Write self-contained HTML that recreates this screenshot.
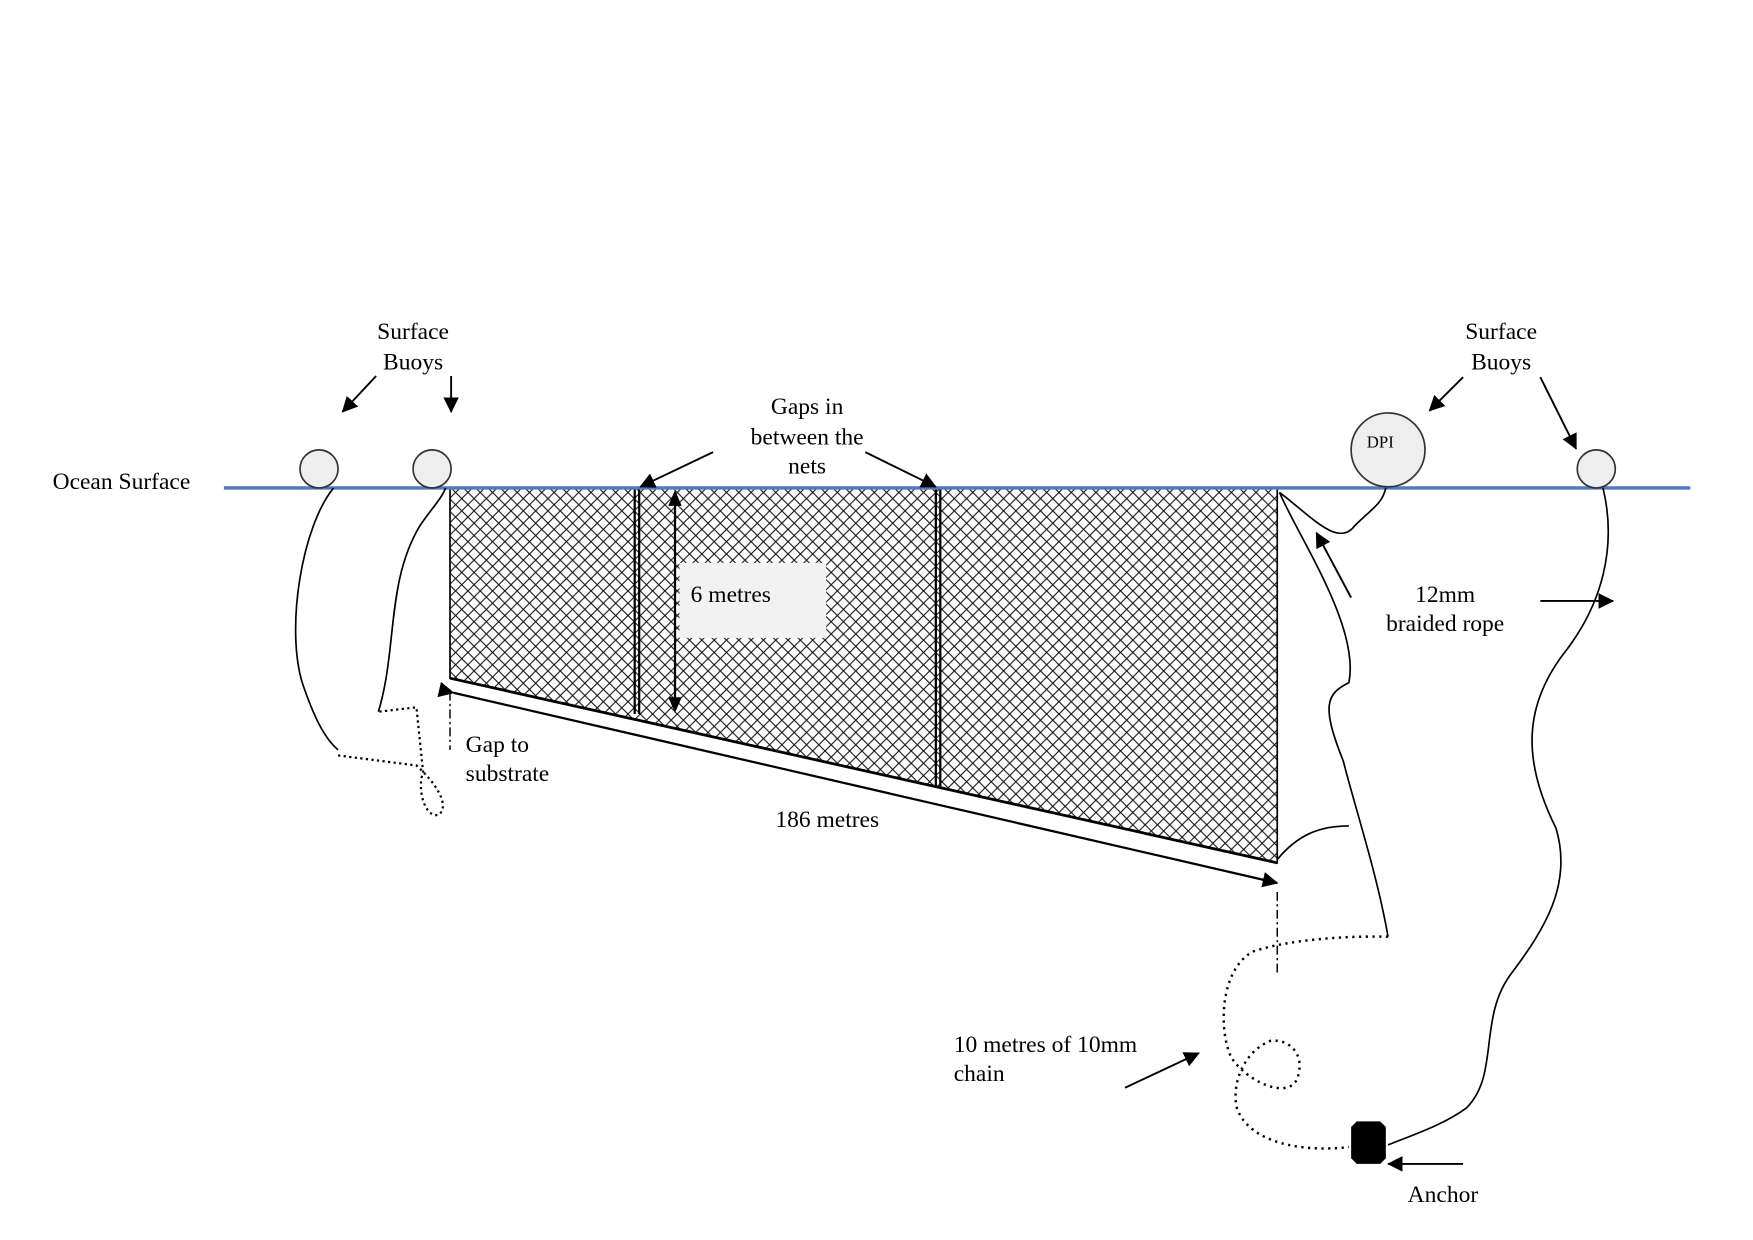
<!DOCTYPE html>
<html><head><meta charset="utf-8"><style>
html,body{margin:0;padding:0;background:#fff;}
svg{display:block;}
text{font-family:"Liberation Serif",serif;font-size:21px;fill:#000;}
</style></head><body>
<svg width="1753" height="1240" viewBox="0 0 1566 1108" preserveAspectRatio="none" xmlns="http://www.w3.org/2000/svg">
<defs>
<pattern id="net" width="11" height="11" patternUnits="userSpaceOnUse">
<path d="M0,0 L11,11 M11,0 L0,11" stroke="#111" stroke-width="1" fill="none"/>
</pattern>
<marker id="ah2" markerWidth="14" markerHeight="14" refX="13" refY="7" orient="auto" markerUnits="userSpaceOnUse">
<path d="M0,0 L14,7 L0,14 z" fill="#000"/>
</marker>
</defs>

<polygon points="402,436 1141,436 1141,771 402,606" fill="url(#net)" stroke="#000" stroke-width="1.5"/>
<line x1="567" y1="436" x2="567" y2="638" stroke="#000" stroke-width="2"/>
<line x1="571" y1="436" x2="571" y2="638" stroke="#000" stroke-width="2"/>
<line x1="836" y1="436" x2="836" y2="703" stroke="#000" stroke-width="2"/>
<line x1="840" y1="436" x2="840" y2="703" stroke="#000" stroke-width="2"/>
<line x1="402" y1="606" x2="1141" y2="771" stroke="#000" stroke-width="2.5"/>
<rect x="607" y="503" width="131" height="67" fill="#f2f2f2"/>
<text x="617" y="538">6 metres</text>
<line x1="603" y1="450" x2="603" y2="625" stroke="#000" stroke-width="2"/>
<path d="M597,452 L603,438 L609,452 z M597,623 L603,637 L609,623 z" fill="#000"/>

<line x1="200" y1="436" x2="1510" y2="436" stroke="#4f79bf" stroke-width="3"/>

<circle cx="285" cy="419" r="17" fill="#eee" stroke="#333" stroke-width="1.5"/>
<circle cx="386" cy="419" r="17" fill="#eee" stroke="#333" stroke-width="1.5"/>
<circle cx="1240" cy="402" r="33" fill="#eee" stroke="#333" stroke-width="1.5"/>
<text x="1221" y="400" style="font-size:15px">DPI</text>
<circle cx="1426" cy="419" r="17" fill="#eee" stroke="#333" stroke-width="1.5"/>

<path d="M298,436 C270,470 255,560 270,610 C280,640 290,660 302,670" fill="none" stroke="#000" stroke-width="1.5"/>
<path d="M302,675 L372,684 C390,700 402,720 392,728 C380,732 372,705 378,690 L372,632 L338,636" fill="none" stroke="#000" stroke-width="2" stroke-dasharray="2,3"/>
<path d="M338,636 C355,580 345,520 375,470 C385,455 395,445 398,436" fill="none" stroke="#000" stroke-width="1.5"/>

<path d="M1143,440 C1170,460 1195,490 1210,470 C1225,455 1235,450 1238,436" fill="none" stroke="#000" stroke-width="1.5"/>
<path d="M1143,440 C1160,480 1215,560 1205,610 C1185,620 1180,630 1200,680 C1210,720 1230,780 1240,837" fill="none" stroke="#000" stroke-width="1.5"/>
<path d="M1141,768 C1160,745 1180,738 1205,738" fill="none" stroke="#000" stroke-width="1.5"/>
<path d="M1240,837 C1200,836 1150,840 1120,850 C1090,865 1088,920 1100,945 C1115,968 1155,985 1160,960 C1165,940 1150,928 1135,930 C1110,940 1100,970 1105,990 C1115,1020 1160,1030 1205,1025" fill="none" stroke="#000" stroke-width="2.2" stroke-dasharray="2,4"/>
<path d="M1432,436 C1445,490 1430,540 1400,580 C1360,630 1360,680 1390,740 C1405,790 1380,830 1350,870 C1320,910 1340,960 1310,990 C1290,1005 1260,1015 1240,1023" fill="none" stroke="#000" stroke-width="1.5"/>

<path d="M1207,1007 L1212,1002 L1233,1002 L1238,1007 L1238,1035 L1233,1040 L1212,1040 L1207,1035 z" fill="#000"/>

<line x1="405" y1="619" x2="1141" y2="789" stroke="#000" stroke-width="2" marker-start="url(#ah2)" marker-end="url(#ah2)"/>
<line x1="402" y1="618" x2="402" y2="670" stroke="#000" stroke-width="1.3" stroke-dasharray="8,3,2,3"/>
<line x1="1141" y1="797" x2="1141" y2="872" stroke="#000" stroke-width="1.3" stroke-dasharray="8,3,2,3"/>

<line x1="336" y1="336" x2="306" y2="368" stroke="#000" stroke-width="1.7" marker-end="url(#ah2)"/>
<line x1="403" y1="336" x2="403" y2="368" stroke="#000" stroke-width="1.7" marker-end="url(#ah2)"/>
<line x1="637" y1="404" x2="572" y2="435" stroke="#000" stroke-width="1.7" marker-end="url(#ah2)"/>
<line x1="773" y1="404" x2="836" y2="435" stroke="#000" stroke-width="1.7" marker-end="url(#ah2)"/>
<line x1="1307" y1="337" x2="1277" y2="367" stroke="#000" stroke-width="1.7" marker-end="url(#ah2)"/>
<line x1="1376" y1="337" x2="1408" y2="401" stroke="#000" stroke-width="1.7" marker-end="url(#ah2)"/>
<line x1="1207" y1="534" x2="1176" y2="476" stroke="#000" stroke-width="1.7" marker-end="url(#ah2)"/>
<line x1="1376" y1="537" x2="1441" y2="537" stroke="#000" stroke-width="1.7" marker-end="url(#ah2)"/>
<line x1="1005" y1="972" x2="1071" y2="941" stroke="#000" stroke-width="1.7" marker-end="url(#ah2)"/>
<line x1="1307" y1="1040" x2="1240" y2="1040" stroke="#000" stroke-width="1.7" marker-end="url(#ah2)"/>

<text x="369" y="303" text-anchor="middle">Surface</text>
<text x="369" y="330" text-anchor="middle">Buoys</text>
<text x="1341" y="303" text-anchor="middle">Surface</text>
<text x="1341" y="330" text-anchor="middle">Buoys</text>
<text x="47" y="437">Ocean Surface</text>
<text x="721" y="370" text-anchor="middle">Gaps in</text>
<text x="721" y="397" text-anchor="middle">between the</text>
<text x="721" y="423" text-anchor="middle">nets</text>
<text x="1291" y="538" text-anchor="middle">12mm</text>
<text x="1291" y="564" text-anchor="middle">braided rope</text>
<text x="416" y="672">Gap to</text>
<text x="416" y="698">substrate</text>
<text x="739" y="739" text-anchor="middle">186 metres</text>
<text x="852" y="940">10 metres of 10mm</text>
<text x="852" y="966">chain</text>
<text x="1289" y="1074" text-anchor="middle">Anchor</text>
</svg>
</body></html>
